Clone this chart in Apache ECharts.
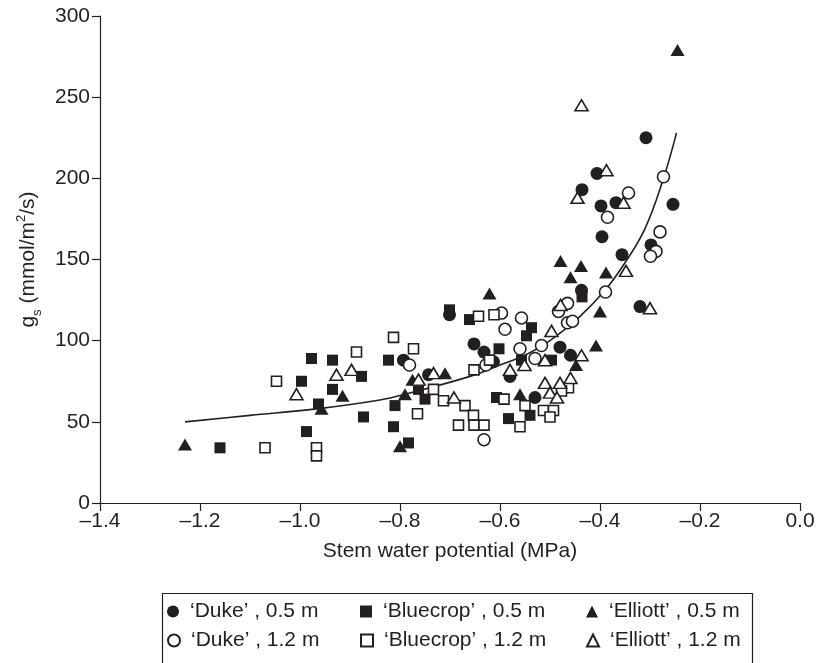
<!DOCTYPE html>
<html>
<head>
<meta charset="utf-8">
<script src="https://cdn.jsdelivr.net/npm/echarts@6/dist/echarts.min.js"></script>
<style>
  html, body { margin: 0; padding: 0; background: #fff; }
  #chart { width: 820px; height: 663px; }
</style>
</head>
<body>
<div id="chart"></div>
<script>
// Stomatal conductance (gs) against stem water potential, three cultivars at two depths
const xTicks = { min: -1.4, max: 0, step: 0.2 };
const yTicks = { min: 0, max: 300, step: 50 };

const duke05 = [
  [-0.308, 225], [-0.406, 203], [-0.436, 193], [-0.398, 183], [-0.368, 185],
  [-0.254, 184], [-0.396, 164], [-0.356, 153], [-0.298, 159], [-0.437, 131],
  [-0.32, 121], [-0.48, 96], [-0.459, 91], [-0.53, 65], [-0.58, 78],
  [-0.613, 87], [-0.632, 93], [-0.652, 98], [-0.701, 116], [-0.743, 79],
  [-0.793, 88]
];
const duke12 = [
  [-0.273, 201], [-0.343, 191], [-0.385, 176], [-0.28, 167], [-0.288, 155],
  [-0.299, 152], [-0.389, 130], [-0.465, 123], [-0.483, 118], [-0.465, 111],
  [-0.455, 112], [-0.557, 114], [-0.597, 117], [-0.59, 107], [-0.517, 97],
  [-0.53, 89], [-0.56, 95], [-0.628, 85], [-0.781, 85], [-0.632, 39]
];
const bluecrop05 = [
  [-1.16, 34], [-0.987, 44], [-0.977, 89], [-0.935, 88], [-0.997, 75],
  [-0.935, 70], [-0.963, 61], [-0.877, 78], [-0.873, 53], [-0.823, 88],
  [-0.81, 60], [-0.813, 47], [-0.783, 37], [-0.763, 70], [-0.75, 64],
  [-0.701, 119], [-0.661, 113], [-0.607, 65], [-0.602, 95], [-0.537, 108],
  [-0.547, 103], [-0.557, 88], [-0.497, 88], [-0.583, 52], [-0.54, 54],
  [-0.436, 127]
];
const bluecrop12 = [
  [-1.047, 75], [-1.07, 34], [-0.967, 34], [-0.967, 29], [-0.887, 93],
  [-0.813, 102], [-0.773, 95], [-0.765, 55], [-0.733, 70], [-0.713, 63],
  [-0.67, 60], [-0.683, 48], [-0.653, 54], [-0.652, 48], [-0.632, 48],
  [-0.643, 115], [-0.612, 116], [-0.621, 88], [-0.652, 82], [-0.592, 64],
  [-0.56, 47], [-0.55, 60], [-0.513, 57], [-0.493, 57], [-0.50, 53],
  [-0.463, 71], [-0.477, 69]
];
const elliott05 = [
  [-1.23, 36], [-0.957, 58], [-0.915, 66], [-0.80, 35], [-0.79, 67],
  [-0.775, 76], [-0.71, 80], [-0.621, 129], [-0.56, 67], [-0.479, 149],
  [-0.438, 146], [-0.459, 139], [-0.388, 142], [-0.40, 118], [-0.408, 97],
  [-0.448, 85], [-0.245, 279]
];
const elliott12 = [
  [-0.437, 245], [-0.387, 205], [-0.445, 188], [-0.353, 185], [-0.348, 143],
  [-0.30, 120], [-0.479, 122], [-0.497, 106], [-0.437, 91], [-0.551, 85],
  [-0.58, 82], [-0.51, 88], [-0.51, 74], [-0.48, 74], [-0.459, 77],
  [-0.50, 68], [-0.486, 65], [-0.692, 65], [-0.733, 80], [-0.763, 76],
  [-0.897, 82], [-0.927, 79], [-1.007, 67]
];
// fitted response curve
const fitCurve = [
  [-1.23, 50], [-1.1, 54], [-0.967, 58], [-0.84, 63.5], [-0.79, 67],
  [-0.66, 78], [-0.60, 85], [-0.55, 91], [-0.50, 100], [-0.44, 115],
  [-0.39, 131], [-0.35, 148], [-0.31, 169], [-0.273, 200], [-0.247, 228]
];

const names = [
  '‘Duke’ , 0.5 m', '‘Bluecrop’ , 0.5 m', '‘Elliott’ , 0.5 m',
  '‘Duke’ , 1.2 m', '‘Bluecrop’ , 1.2 m', '‘Elliott’ , 1.2 m'
];

const INK = '#231f20';
const FONT = '"Liberation Sans", Arial, Helvetica, sans-serif';

function filled(name, data, symbol, size) {
  return {
    name, type: 'scatter', data, symbol, symbolSize: size,
    itemStyle: { color: INK, borderWidth: 0, opacity: 1 },
    emphasis: { disabled: true }, z: 3
  };
}
function open(name, data, symbol, size) {
  return {
    name, type: 'scatter', data, symbol, symbolSize: size,
    itemStyle: { color: '#ffffff', borderColor: INK, borderWidth: 1.6, opacity: 1 },
    emphasis: { disabled: true }, z: 4
  };
}

// legend grid: one component per entry so the columns line up
const legendCols = [167, 360, 586];
const legendRows = [601, 630];
const legends = names.map((n, i) => ({
  data: [n],
  left: legendCols[i % 3],
  top: legendRows[Math.floor(i / 3)],
  padding: 0,
  itemWidth: 12, itemHeight: 12,
  selectedMode: false,
  textStyle: { fontSize: 21, color: INK, fontFamily: FONT, padding: [0, 0, 0, 6] }
}));

const chart = echarts.init(document.getElementById('chart'), null, { renderer: 'canvas' });
chart.setOption({
  animation: false,
  backgroundColor: '#ffffff',
  textStyle: { fontFamily: FONT },
  grid: { left: 100, right: 20, top: 16, bottom: 160 },
  xAxis: {
    type: 'value', min: xTicks.min, max: xTicks.max, interval: xTicks.step,
    name: 'Stem water potential (MPa)', nameLocation: 'middle', nameGap: 38,
    nameTextStyle: { fontSize: 21, color: INK, fontFamily: FONT },
    axisLine: { show: true, onZero: false, lineStyle: { color: INK, width: 1.2 } },
    axisTick: { show: true, inside: false, length: 8, lineStyle: { color: INK, width: 1.2 } },
    axisLabel: {
      fontSize: 21, color: INK, margin: 8, fontFamily: FONT,
      formatter: v => (Math.abs(v) < 1e-9 ? '0.0' : '–' + Math.abs(v).toFixed(1))
    },
    splitLine: { show: false }
  },
  yAxis: {
    type: 'value', min: yTicks.min, max: yTicks.max, interval: yTicks.step,
    name: '{g|g}{sub|s}{g| (mmol/m}{sup|2}{g|/s)}', nameLocation: 'middle', nameGap: 56,
    nameTextStyle: {
      color: INK, fontFamily: FONT,
      rich: {
        g: { fontSize: 21, color: INK, fontFamily: FONT, lineHeight: 26 },
        sub: { fontSize: 13, color: INK, fontFamily: FONT, verticalAlign: 'bottom', lineHeight: 26, padding: [0, 0, -3, 0] },
        sup: { fontSize: 13, color: INK, fontFamily: FONT, verticalAlign: 'top', lineHeight: 14 }
      }
    },
    axisLine: { show: true, onZero: false, lineStyle: { color: INK, width: 1.2 } },
    axisTick: { show: true, inside: false, length: 8, lineStyle: { color: INK, width: 1.2 } },
    axisLabel: { fontSize: 21, color: INK, margin: 10, fontFamily: FONT },
    splitLine: { show: false }
  },
  legend: legends,
  graphic: [{
    type: 'rect', left: 160, top: 591, silent: true,
    shape: { width: 590, height: 100 },
    style: { fill: 'none', stroke: INK, lineWidth: 1.2 }
  }],
  series: [
    {
      name: 'fit', type: 'line', data: fitCurve, smooth: 0.4, showSymbol: false,
      lineStyle: { color: INK, width: 1.6 }, z: 2, silent: true
    },
    filled(names[0], duke05, 'circle', 13),
    open(names[3], duke12, 'circle', 12),
    filled(names[1], bluecrop05, 'rect', 11),
    open(names[4], bluecrop12, 'rect', 10),
    filled(names[2], elliott05, 'triangle', [14, 12]),
    open(names[5], elliott12, 'triangle', [13, 11])
  ]
});
</script>
</body>
</html>
